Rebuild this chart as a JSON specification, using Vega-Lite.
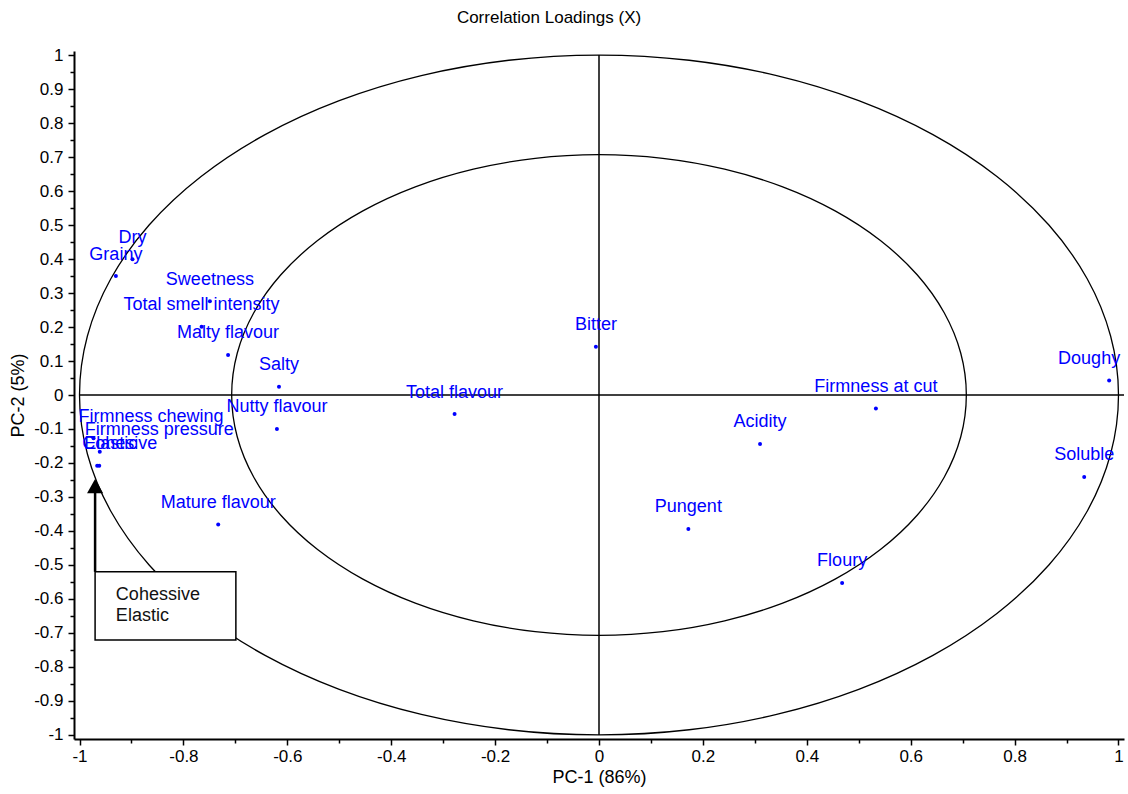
{
  "$schema": "https://vega.github.io/schema/vega-lite/v6.json",
  "width": 1050,
  "height": 688,
  "autosize": {"type": "none"},
  "padding": {"left": 74, "top": 51, "right": 4, "bottom": 55},
  "background": "white",
  "config": {"view": {"stroke": null}},
  "title": {
    "text": "Correlation Loadings (X)",
    "font": "Liberation Sans",
    "fontSize": 17,
    "fontWeight": "normal",
    "color": "black",
    "anchor": "middle",
    "dx": -50,
    "offset": 19
  },
  "datasets": {
    "ellipses": [
      {"c": "outer", "i": 0, "x": 1.0, "y": 0.0},
      {"c": "outer", "i": 1, "x": 0.9848, "y": 0.1736},
      {"c": "outer", "i": 2, "x": 0.9397, "y": 0.342},
      {"c": "outer", "i": 3, "x": 0.866, "y": 0.5},
      {"c": "outer", "i": 4, "x": 0.766, "y": 0.6428},
      {"c": "outer", "i": 5, "x": 0.6428, "y": 0.766},
      {"c": "outer", "i": 6, "x": 0.5, "y": 0.866},
      {"c": "outer", "i": 7, "x": 0.342, "y": 0.9397},
      {"c": "outer", "i": 8, "x": 0.1736, "y": 0.9848},
      {"c": "outer", "i": 9, "x": 0.0, "y": 1.0},
      {"c": "outer", "i": 10, "x": -0.1736, "y": 0.9848},
      {"c": "outer", "i": 11, "x": -0.342, "y": 0.9397},
      {"c": "outer", "i": 12, "x": -0.5, "y": 0.866},
      {"c": "outer", "i": 13, "x": -0.6428, "y": 0.766},
      {"c": "outer", "i": 14, "x": -0.766, "y": 0.6428},
      {"c": "outer", "i": 15, "x": -0.866, "y": 0.5},
      {"c": "outer", "i": 16, "x": -0.9397, "y": 0.342},
      {"c": "outer", "i": 17, "x": -0.9848, "y": 0.1736},
      {"c": "outer", "i": 18, "x": -1.0, "y": 0.0},
      {"c": "outer", "i": 19, "x": -0.9848, "y": -0.1736},
      {"c": "outer", "i": 20, "x": -0.9397, "y": -0.342},
      {"c": "outer", "i": 21, "x": -0.866, "y": -0.5},
      {"c": "outer", "i": 22, "x": -0.766, "y": -0.6428},
      {"c": "outer", "i": 23, "x": -0.6428, "y": -0.766},
      {"c": "outer", "i": 24, "x": -0.5, "y": -0.866},
      {"c": "outer", "i": 25, "x": -0.342, "y": -0.9397},
      {"c": "outer", "i": 26, "x": -0.1736, "y": -0.9848},
      {"c": "outer", "i": 27, "x": 0.0, "y": -1.0},
      {"c": "outer", "i": 28, "x": 0.1736, "y": -0.9848},
      {"c": "outer", "i": 29, "x": 0.342, "y": -0.9397},
      {"c": "outer", "i": 30, "x": 0.5, "y": -0.866},
      {"c": "outer", "i": 31, "x": 0.6428, "y": -0.766},
      {"c": "outer", "i": 32, "x": 0.766, "y": -0.6428},
      {"c": "outer", "i": 33, "x": 0.866, "y": -0.5},
      {"c": "outer", "i": 34, "x": 0.9397, "y": -0.342},
      {"c": "outer", "i": 35, "x": 0.9848, "y": -0.1736},
      {"c": "inner", "i": 0, "x": 0.7071, "y": 0.0},
      {"c": "inner", "i": 1, "x": 0.6964, "y": 0.1228},
      {"c": "inner", "i": 2, "x": 0.6645, "y": 0.2418},
      {"c": "inner", "i": 3, "x": 0.6124, "y": 0.3536},
      {"c": "inner", "i": 4, "x": 0.5417, "y": 0.4545},
      {"c": "inner", "i": 5, "x": 0.4545, "y": 0.5417},
      {"c": "inner", "i": 6, "x": 0.3536, "y": 0.6124},
      {"c": "inner", "i": 7, "x": 0.2418, "y": 0.6645},
      {"c": "inner", "i": 8, "x": 0.1228, "y": 0.6964},
      {"c": "inner", "i": 9, "x": 0.0, "y": 0.7071},
      {"c": "inner", "i": 10, "x": -0.1228, "y": 0.6964},
      {"c": "inner", "i": 11, "x": -0.2418, "y": 0.6645},
      {"c": "inner", "i": 12, "x": -0.3536, "y": 0.6124},
      {"c": "inner", "i": 13, "x": -0.4545, "y": 0.5417},
      {"c": "inner", "i": 14, "x": -0.5417, "y": 0.4545},
      {"c": "inner", "i": 15, "x": -0.6124, "y": 0.3536},
      {"c": "inner", "i": 16, "x": -0.6645, "y": 0.2418},
      {"c": "inner", "i": 17, "x": -0.6964, "y": 0.1228},
      {"c": "inner", "i": 18, "x": -0.7071, "y": 0.0},
      {"c": "inner", "i": 19, "x": -0.6964, "y": -0.1228},
      {"c": "inner", "i": 20, "x": -0.6645, "y": -0.2418},
      {"c": "inner", "i": 21, "x": -0.6124, "y": -0.3536},
      {"c": "inner", "i": 22, "x": -0.5417, "y": -0.4545},
      {"c": "inner", "i": 23, "x": -0.4545, "y": -0.5417},
      {"c": "inner", "i": 24, "x": -0.3536, "y": -0.6124},
      {"c": "inner", "i": 25, "x": -0.2418, "y": -0.6645},
      {"c": "inner", "i": 26, "x": -0.1228, "y": -0.6964},
      {"c": "inner", "i": 27, "x": 0.0, "y": -0.7071},
      {"c": "inner", "i": 28, "x": 0.1228, "y": -0.6964},
      {"c": "inner", "i": 29, "x": 0.2418, "y": -0.6645},
      {"c": "inner", "i": 30, "x": 0.3536, "y": -0.6124},
      {"c": "inner", "i": 31, "x": 0.4545, "y": -0.5417},
      {"c": "inner", "i": 32, "x": 0.5417, "y": -0.4545},
      {"c": "inner", "i": 33, "x": 0.6124, "y": -0.3536},
      {"c": "inner", "i": 34, "x": 0.6645, "y": -0.2418},
      {"c": "inner", "i": 35, "x": 0.6964, "y": -0.1228}
    ],
    "cross": [
      {"x": 0, "y": -1, "x2": 0, "y2": 1},
      {"x": -1, "y": 0, "x2": 1.0106, "y2": 0}
    ],
    "loadings": [
      {"name": "Dry", "x": -0.898, "y": 0.399},
      {"name": "Grainy", "x": -0.93, "y": 0.35},
      {"name": "Sweetness", "x": -0.749, "y": 0.276},
      {"name": "Total smell intensity", "x": -0.765, "y": 0.201},
      {"name": "Malty flavour", "x": -0.714, "y": 0.118},
      {"name": "Salty", "x": -0.616, "y": 0.024},
      {"name": "Nutty flavour", "x": -0.62, "y": -0.1},
      {"name": "Total flavour", "x": -0.278, "y": -0.056},
      {"name": "Bitter", "x": -0.006, "y": 0.142},
      {"name": "Firmness at cut", "x": 0.533, "y": -0.04},
      {"name": "Acidity", "x": 0.31, "y": -0.144},
      {"name": "Doughy", "x": 0.982, "y": 0.043},
      {"name": "Soluble", "x": 0.934, "y": -0.241},
      {"name": "Pungent", "x": 0.172, "y": -0.394},
      {"name": "Floury", "x": 0.468, "y": -0.553},
      {"name": "Mature flavour", "x": -0.733, "y": -0.381},
      {"name": "Firmness chewing", "x": -0.973, "y": -0.127},
      {"name": "Firmness pressure", "x": -0.961, "y": -0.167},
      {"name": "Cohesive", "x": -0.966, "y": -0.208},
      {"name": "Elastic", "x": -0.962, "y": -0.208}
    ],
    "box": [{"x": -0.97, "x2": -0.699, "y": -0.52, "y2": -0.721}],
    "arrow": [{"x": -0.97, "y": -0.52, "x2": -0.97, "y2": -0.275}],
    "head": [{"x": -0.97, "y": -0.268}],
    "note": [{"x": -0.93, "y": -0.602, "text": "Cohessive\nElastic"}]
  },
  "encoding": {
    "x": {
      "field": "x",
      "type": "quantitative",
      "scale": {"domain": [-1.0106, 1.0106], "nice": false, "zero": false},
      "axis": {
        "title": "PC-1 (86%)",
        "values": [-1, -0.9, -0.8, -0.7, -0.6, -0.5, -0.4, -0.3, -0.2, -0.1, 0, 0.1, 0.2, 0.3, 0.4, 0.5, 0.6, 0.7, 0.8, 0.9, 1],
        "labelExpr": "abs(datum.value*5 - round(datum.value*5)) < 0.001 ? toString(round(datum.value*10)/10) : ''",
        "tickSize": {"condition": {"test": "abs(datum.value*5 - round(datum.value*5)) < 0.001", "value": 6}, "value": 4},
        "labelOverlap": false,
        "labelFlush": false,
        "labelBound": false,
        "grid": false,
        "domainColor": "black",
        "domainWidth": 2,
        "tickColor": "black",
        "tickWidth": 1.5,
        "labelColor": "black",
        "labelFont": "Liberation Sans",
        "labelFontSize": 17,
        "labelPadding": 3,
        "titleFont": "Liberation Sans",
        "titleFontSize": 18,
        "titleFontWeight": "normal",
        "titleColor": "black",
        "titlePadding": 4
      }
    },
    "y": {
      "field": "y",
      "type": "quantitative",
      "scale": {"domain": [-1.012, 1.012], "nice": false, "zero": false},
      "axis": {
        "title": "PC-2 (5%)",
        "values": [-1, -0.95, -0.9, -0.85, -0.8, -0.75, -0.7, -0.65, -0.6, -0.55, -0.5, -0.45, -0.4, -0.35, -0.3, -0.25, -0.2, -0.15, -0.1, -0.05, 0, 0.05, 0.1, 0.15, 0.2, 0.25, 0.3, 0.35, 0.4, 0.45, 0.5, 0.55, 0.6, 0.65, 0.7, 0.75, 0.8, 0.85, 0.9, 0.95, 1],
        "labelExpr": "abs(datum.value*10 - round(datum.value*10)) < 0.001 ? toString(round(datum.value*10)/10) : ''",
        "tickSize": {"condition": {"test": "abs(datum.value*10 - round(datum.value*10)) < 0.001", "value": 6}, "value": 4},
        "labelOverlap": false,
        "labelFlush": false,
        "labelBound": false,
        "grid": false,
        "domainColor": "black",
        "domainWidth": 2,
        "tickColor": "black",
        "tickWidth": 1.5,
        "labelColor": "black",
        "labelFont": "Liberation Sans",
        "labelFontSize": 17,
        "labelPadding": 5,
        "titleFont": "Liberation Sans",
        "titleFontSize": 18,
        "titleFontWeight": "normal",
        "titleColor": "black",
        "titlePadding": 6
      }
    }
  },
  "layer": [
    {
      "data": {"name": "ellipses"},
      "mark": {"type": "line", "color": "black", "strokeWidth": 1.3, "interpolate": "cardinal-closed"},
      "encoding": {
        "detail": {"field": "c", "type": "nominal"},
        "order": {"field": "i", "type": "quantitative"}
      }
    },
    {
      "data": {"name": "cross"},
      "mark": {"type": "rule", "color": "black", "strokeWidth": 1.5},
      "encoding": {
        "x2": {"field": "x2"},
        "y2": {"field": "y2"}
      }
    },
    {
      "data": {"name": "arrow"},
      "mark": {"type": "rule", "color": "black", "strokeWidth": 2.5},
      "encoding": {
        "x2": {"field": "x2"},
        "y2": {"field": "y2"}
      }
    },
    {
      "data": {"name": "box"},
      "mark": {"type": "rect", "fill": "white", "stroke": "black", "strokeWidth": 1.5},
      "encoding": {
        "x2": {"field": "x2"},
        "y2": {"field": "y2"}
      }
    },
    {
      "data": {"name": "head"},
      "mark": {"type": "point", "shape": "M0,-1L1.14,1L-1.14,1Z", "filled": true, "color": "black", "opacity": 1, "size": 200},
      "encoding": {}
    },
    {
      "data": {"name": "note"},
      "mark": {"type": "text", "align": "left", "baseline": "alphabetic", "font": "Liberation Sans", "fontSize": 18, "color": "#111111", "lineBreak": "\n", "lineHeight": 21},
      "encoding": {"text": {"field": "text"}}
    },
    {
      "data": {"name": "loadings"},
      "mark": {"type": "circle", "color": "#0000ff", "opacity": 1, "size": 16},
      "encoding": {}
    },
    {
      "data": {"name": "loadings"},
      "transform": [{"filter": "datum.x >= -0.95 && datum.x <= 0.95"}],
      "mark": {"type": "text", "align": "center", "baseline": "alphabetic", "dy": -16.5, "font": "Liberation Sans", "fontSize": 18, "color": "#0000ff"},
      "encoding": {"text": {"field": "name"}}
    },
    {
      "data": {"name": "loadings"},
      "transform": [{"filter": "datum.x < -0.95"}],
      "mark": {"type": "text", "align": "left", "baseline": "alphabetic", "dx": -15, "dy": -16.5, "font": "Liberation Sans", "fontSize": 18, "color": "#0000ff"},
      "encoding": {"text": {"field": "name"}}
    },
    {
      "data": {"name": "loadings"},
      "transform": [{"filter": "datum.x > 0.95"}],
      "mark": {"type": "text", "align": "right", "baseline": "alphabetic", "dx": 11, "dy": -16.5, "font": "Liberation Sans", "fontSize": 18, "color": "#0000ff"},
      "encoding": {"text": {"field": "name"}}
    }
  ]
}
